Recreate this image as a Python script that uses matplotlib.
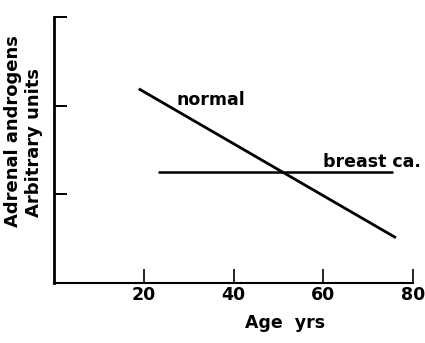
import matplotlib
matplotlib.use("Agg")
import matplotlib.pyplot as plt

# Adrenal androgen levels (arbitrary units) against age in years
normal_age = [18.9, 76.2]
normal_level = [2.19, 0.51]
breast_age = [23.2, 75.5]
breast_level = [1.25, 1.25]

x_ticks = [20, 40, 60, 80]
x_tick_labels = ["20", "40", "60", "80"]
y_ticks = [1, 2, 3]

plt.rcParams["font.family"] = "DejaVu Sans"
plt.rcParams["font.weight"] = "bold"

fig = plt.figure(figsize=(4.25, 3.43), dpi=100)
ax = fig.add_axes([54 / 425, 1 - 283 / 343, (413 - 54) / 425, (283 - 17) / 343])

ax.plot(normal_age, normal_level, color="black", lw=2.0, solid_capstyle="butt")
ax.plot(breast_age, breast_level, color="black", lw=1.8, solid_capstyle="butt")

ax.text(27.4, 2.01, "normal", fontsize=12.5, fontweight="bold", va="baseline", ha="left")
ax.text(59.9, 1.31, "breast ca.", fontsize=12.5, fontweight="bold", va="baseline", ha="left")

ax.set_xlim(0, 80)
ax.set_ylim(0, 3)
ax.set_xticks(x_ticks)
ax.set_xticklabels(x_tick_labels, fontsize=12.5, fontweight="bold")
ax.set_yticks(y_ticks)
ax.set_yticklabels([])

for side in ("top", "right"):
    ax.spines[side].set_visible(False)
ax.spines["left"].set_linewidth(2.0)
ax.spines["bottom"].set_linewidth(1.5)

ax.tick_params(axis="x", direction="in", length=10, width=1.2, pad=2)
ax.tick_params(axis="y", direction="in", length=9.5, width=1.4, left=True)

fig.text(13 / 425, 1 - 131.5 / 343, "Adrenal androgens", rotation=90,
         ha="center", va="center", fontsize=13, fontweight="bold")
fig.text(34 / 425, 1 - 142.5 / 343, "Arbitrary units", rotation=90,
         ha="center", va="center", fontsize=13, fontweight="bold")
fig.text(285 / 425, 1 - 328 / 343, "Age  yrs", ha="center", va="baseline",
         fontsize=12.5, fontweight="bold")

fig.savefig("out.png", dpi=100)
